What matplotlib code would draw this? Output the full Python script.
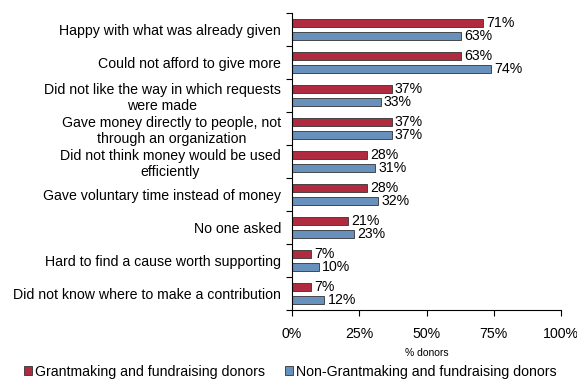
import numpy as np
import matplotlib.pyplot as plt
from matplotlib.patches import Patch

plt.rcParams['font.family'] = ['Liberation Sans', 'DejaVu Sans']

# Data
categories = [
    "Happy with what was already given",
    "Could not afford to give more",
    "Did not like the way in which requests\nwere made",
    "Gave money directly to people, not\nthrough an organization",
    "Did not think money would be used\nefficiently",
    "Gave voluntary time instead of money",
    "No one asked",
    "Hard to find a cause worth supporting",
    "Did not know where to make a contribution",
]
grantmaking = [71, 63, 37, 37, 28, 28, 21, 7, 7]
non_grantmaking = [63, 74, 33, 37, 31, 32, 23, 10, 12]
series_names = ["Grantmaking and fundraising donors",
                "Non-Grantmaking and fundraising donors"]
x_ticks = [0, 25, 50, 75, 100]

RED = '#B02A40'
BLUE = '#6790BC'
EDGE = '#333333'
FS = 10.2

fig = plt.figure(figsize=(5.77, 3.81), dpi=100)
ax = fig.add_axes([292 / 577, 1 - 310 / 381, (561 - 292) / 577, (310 - 13) / 381])

y = np.arange(len(categories))
h = 0.26
ax.barh(y - 0.2, grantmaking, height=h, color=RED, edgecolor=EDGE, linewidth=0.6)
ax.barh(y + 0.2, non_grantmaking, height=h, color=BLUE, edgecolor=EDGE, linewidth=0.6)

for yi, v in zip(y, grantmaking):
    ax.text(v + 1.2, yi - 0.2, f"{v}%", va='center', ha='left', fontsize=FS)
for yi, v in zip(y, non_grantmaking):
    ax.text(v + 1.2, yi + 0.2, f"{v}%", va='center', ha='left', fontsize=FS)

ax.set_ylim(len(categories) - 0.5, -0.5)
ax.set_xlim(0, 100)

ax.set_yticks(y)
ax.set_yticklabels(categories, fontsize=FS, multialignment='center')
ax.tick_params(axis='y', which='major', length=0, pad=8)
ax.set_yticks(np.arange(len(categories) + 1) - 0.5, minor=True)
ax.tick_params(axis='y', which='minor', length=4, direction='out', width=0.8)

ax.set_xticks(x_ticks)
ax.set_xticklabels([f"{t}%" for t in x_ticks], fontsize=FS)
ax.tick_params(axis='x', length=4, direction='out', width=0.8, pad=8)
ax.set_xlabel("% donors", fontsize=7.5, labelpad=5)

for side in ['top', 'right']:
    ax.spines[side].set_visible(False)
for side in ['left', 'bottom']:
    ax.spines[side].set_linewidth(0.8)

handles = [Patch(facecolor=RED, edgecolor=EDGE, linewidth=0.6),
           Patch(facecolor=BLUE, edgecolor=EDGE, linewidth=0.6)]
fig.legend(handles, series_names, loc='lower center', ncol=2, frameon=False,
           fontsize=10.2, bbox_to_anchor=(0.503, -0.028), handlelength=0.6,
           handleheight=0.6, handletextpad=0.2, columnspacing=1.4)

fig.savefig("out.png", dpi=100)
